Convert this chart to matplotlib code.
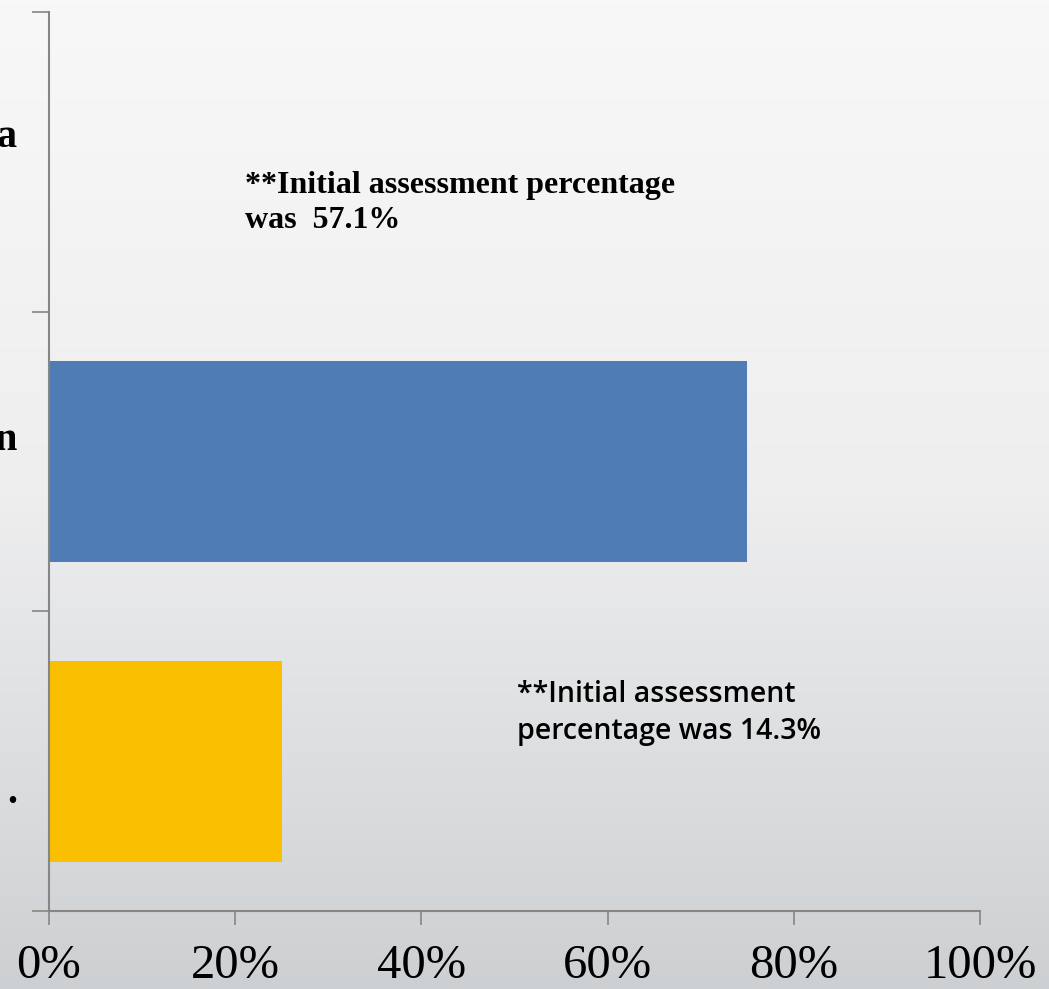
import numpy as np
import matplotlib.pyplot as plt
import matplotlib.transforms as mtransforms
from matplotlib.colors import LinearSegmentedColormap

# categories are cut off at the left edge of the slide, only the last letters show
categories = ["a", "n", "."]
values = [0, 75, 25]
bar_colors = ["#4F7CB4", "#4F7CB4", "#F9BF00"]
xticks = [0, 20, 40, 60, 80, 100]
xtick_labels = ["0%", "20%", "40%", "60%", "80%", "100%"]
note_top = "**Initial assessment percentage\nwas  57.1%"
note_bottom = "**Initial assessment\npercentage was 14.3%"

W, H = 1049, 989
fig = plt.figure(figsize=(W / 100, H / 100), dpi=100)

# background gradient (light at top, grey at bottom)
bg = fig.add_axes([0, 0, 1, 1], zorder=-10)
cmap = LinearSegmentedColormap.from_list("bg", ["#f8f8f8", "#eeeeef", "#cdd0d2"])
grad = np.linspace(0, 1, 256).reshape(-1, 1)
bg.imshow(grad, aspect="auto", cmap=cmap, extent=[0, 1, 0, 1])
bg.axis("off")

# axes in pixel positions
x0, x1 = 49, 980
ytop, ybot = 12, 911
ax = fig.add_axes([x0 / W, 1 - ybot / H, (x1 - x0) / W, (ybot - ytop) / H])
ax.patch.set_alpha(0)

pos = np.arange(len(categories))[::-1]
ax.barh(pos, values, height=0.67, color=bar_colors)
ax.set_xlim(0, 100)
ax.set_ylim(-0.5, len(categories) - 0.5)

for s in ["top", "right"]:
    ax.spines[s].set_visible(False)
for s in ["left", "bottom"]:
    ax.spines[s].set_color("#868686")
    ax.spines[s].set_linewidth(1.5)

ax.set_xticks(xticks)
ax.set_xticklabels(xtick_labels, family="Liberation Serif", fontsize=35)
ax.tick_params(axis="x", length=10, width=1.2, color="#868686", pad=14)

ax.set_yticks(pos)
ax.set_yticklabels(categories, family="Liberation Serif", fontweight="bold",
                   fontsize=29, va="baseline")
ax.tick_params(axis="y", length=0, pad=23)
ax.set_yticks(np.arange(-0.5, len(categories)), minor=True)
ax.tick_params(axis="y", which="minor", length=12, width=1.2, color="#868686")

# the visible label tails sit a bit off the category centres
shifts = [10.8, 8.6, -30.2]
for lab, dy in zip(ax.get_yticklabels(), shifts):
    lab.set_transform(lab.get_transform() +
                      mtransforms.ScaledTranslation(0, dy / 72, fig.dpi_scale_trans))

ax.text(21, 1.97, note_top, family="Liberation Serif", fontweight="bold",
        fontsize=23, va="top", ha="left", linespacing=1.3)
ax.text(50.3, 0.27, note_bottom, family="Open Sans", fontweight="semibold",
        fontsize=20.5, va="top", ha="left", linespacing=1.35)

fig.savefig("out.png", dpi=100)
